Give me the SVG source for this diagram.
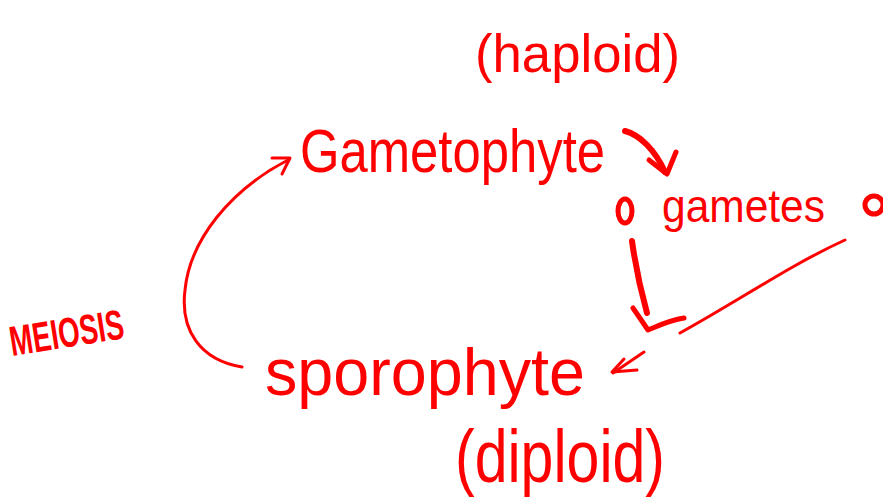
<svg xmlns="http://www.w3.org/2000/svg" width="883" height="504" viewBox="0 0 883 504">
<style>
.t{fill:#ff0000;font-family:"Liberation Sans",sans-serif}
.c{fill:none;stroke:#ff0000;stroke-linecap:round;stroke-linejoin:round}
</style>
<rect width="883" height="504" fill="#ffffff"/>
<g id="haploid"><text class="t" x="475" y="72" font-size="54" textLength="205" lengthAdjust="spacingAndGlyphs">(haploid)</text></g>
<g id="gametophyte"><text class="t" x="300" y="172" font-size="62" textLength="305" lengthAdjust="spacingAndGlyphs">Gametophyte</text></g>
<g id="gametes">
<ellipse class="c" cx="625" cy="211" rx="7" ry="12" stroke-width="5"/>
<text class="t" x="662" y="222" font-size="46" textLength="163" lengthAdjust="spacingAndGlyphs">gametes</text>
<ellipse class="c" cx="874" cy="205" rx="9" ry="9" stroke-width="5"/>
</g>
<g id="sporophyte"><text class="t" x="265" y="395" font-size="66" textLength="320" lengthAdjust="spacingAndGlyphs">sporophyte</text></g>
<g id="diploid"><text class="t" x="455" y="482" font-size="74" textLength="210" lengthAdjust="spacingAndGlyphs">(diploid)</text></g>
<g id="meiosis"><text class="t" x="12" y="356" font-size="42" font-weight="bold" textLength="115" lengthAdjust="spacingAndGlyphs" transform="rotate(-9 12 356)">MEIOSIS</text></g>
<g id="connectors">
<path class="c" stroke-width="3" d="M242 367 C200 360 180 330 185 290 C190 240 230 190 288 160"/>
<path class="c" stroke-width="3" d="M272 158 L290 158 L282 174"/>
<path class="c" stroke-width="6" d="M625 131 C640 135 655 150 665 172"/>
<path class="c" stroke-width="5" d="M649 160 L667 174 L676 152"/>
<path class="c" stroke-width="6" d="M632 241 C636 270 642 295 647 313"/>
<path class="c" stroke-width="5" d="M633 308 L648 330 C660 325 670 320 684 318"/>
<path class="c" stroke-width="3" d="M845 240 C790 265 740 300 680 333"/>
<path class="c" stroke-width="3" d="M644 352 L613 373"/>
<path class="c" stroke-width="3" d="M624 359 L612 372 L637 370"/>
</g>
</svg>
